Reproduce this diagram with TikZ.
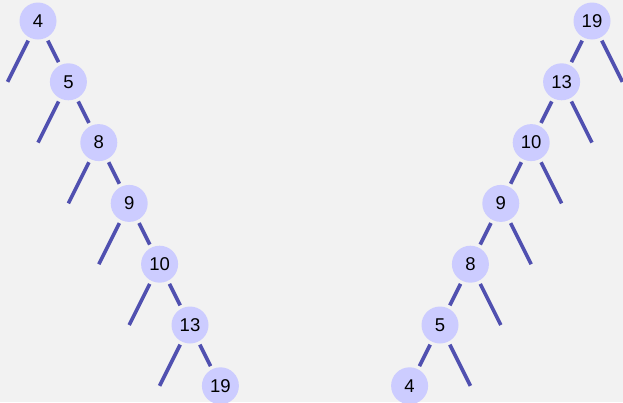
\documentclass[tikz,border=0pt]{standalone}
\usepackage{fontspec}
\setmainfont{Liberation Sans}
\definecolor{bgc}{RGB}{242,242,242}
\definecolor{nodefill}{RGB}{204,204,255}
\definecolor{edgec}{RGB}{80,80,176}
\tikzset{
  tnode/.style={circle, fill=nodefill, draw=none, minimum size=37pt, inner sep=0pt, outer sep=3.5pt, font=\fontsize{18.5}{18.5}\selectfont},
  tedge/.style={draw=edgec, line width=3.6pt}
}
\begin{document}
\begin{tikzpicture}[x=1pt,y=-1pt]
\fill[bgc] (0,0) rectangle (623,402);
\useasboundingbox (0,0) rectangle (623,402);
% left chain
\node[tnode] (La) at (38,21) {4};
\node[tnode] (Lb) at (68.4,81.8) {5};
\node[tnode] (Lc) at (98.8,142.6) {8};
\node[tnode] (Ld) at (129.2,203.4) {9};
\node[tnode] (Le) at (159.6,264.2) {10};
\node[tnode] (Lf) at (190,325) {13};
\node[tnode] (Lg) at (220.4,385.8) {19};
\coordinate (lla) at (7.6,81.8);
\coordinate (llb) at (38,142.6);
\coordinate (llc) at (68.4,203.4);
\coordinate (lld) at (98.8,264.2);
\coordinate (lle) at (129.2,325);
\coordinate (llf) at (159.6,385.8);
\draw[tedge] (La) -- (Lb);
\draw[tedge] (Lb) -- (Lc);
\draw[tedge] (Lc) -- (Ld);
\draw[tedge] (Ld) -- (Le);
\draw[tedge] (Le) -- (Lf);
\draw[tedge] (Lf) -- (Lg);
\draw[tedge] (La) -- (lla);
\draw[tedge] (Lb) -- (llb);
\draw[tedge] (Lc) -- (llc);
\draw[tedge] (Ld) -- (lld);
\draw[tedge] (Le) -- (lle);
\draw[tedge] (Lf) -- (llf);
% right chain
\node[tnode] (Ra) at (592,21) {19};
\node[tnode] (Rb) at (561.6,81.8) {13};
\node[tnode] (Rc) at (531.2,142.6) {10};
\node[tnode] (Rd) at (500.8,203.4) {9};
\node[tnode] (Re) at (470.4,264.2) {8};
\node[tnode] (Rf) at (440,325) {5};
\node[tnode] (Rg) at (409.6,385.8) {4};
\coordinate (rra) at (622.4,81.8);
\coordinate (rrb) at (592,142.6);
\coordinate (rrc) at (561.6,203.4);
\coordinate (rrd) at (531.2,264.2);
\coordinate (rre) at (500.8,325);
\coordinate (rrf) at (470.4,385.8);
\draw[tedge] (Ra) -- (Rb);
\draw[tedge] (Rb) -- (Rc);
\draw[tedge] (Rc) -- (Rd);
\draw[tedge] (Rd) -- (Re);
\draw[tedge] (Re) -- (Rf);
\draw[tedge] (Rf) -- (Rg);
\draw[tedge] (Ra) -- (rra);
\draw[tedge] (Rb) -- (rrb);
\draw[tedge] (Rc) -- (rrc);
\draw[tedge] (Rd) -- (rrd);
\draw[tedge] (Re) -- (rre);
\draw[tedge] (Rf) -- (rrf);
\end{tikzpicture}
\end{document}
